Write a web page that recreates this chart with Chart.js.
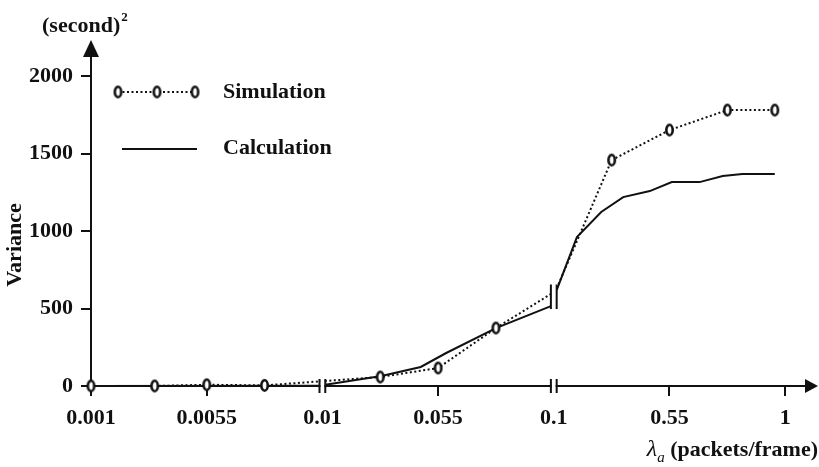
<!DOCTYPE html>
<html><head><meta charset="utf-8">
<script src="https://cdn.jsdelivr.net/npm/chart.js@4.4.0/dist/chart.umd.min.js"></script>
<style>html,body{margin:0;padding:0;background:#fff;overflow:hidden}#wrap{width:819px;height:467px}</style>
</head><body><div id="wrap"><canvas id="c" width="819" height="467"></canvas></div>
<script>
// ---- data ----
const xTickLabels = ['0.001','0.0055','0.01','0.055','0.1','0.55','1'];
const xTickPositions = [0,1,2,3,4,5,6];
const yTickValues = [0,500,1000,1500,2000];
const yTickLabels = ['0','500','1000','1500','2000'];
const axisBreaks = [2, 4];

const simX = [0, 0.55, 1, 1.5, 2.5, 3, 3.5, 3.975, 4.0, 4.025, 4.5, 5, 5.5, 5.91];
const simY = [0, 0, 8, 4, 58, 116, 374, 594, null, 630, 1458, 1652, 1781, 1781];
const simMarker = [1,1,1,1,1,1,1,0,0,0,1,1,1,1];

const calcX = [0, 1.975, 2.0, 2.025, 2.51, 2.85, 3.07, 3.5, 3.975, 4.0, 4.025, 4.2, 4.41, 4.6, 4.83, 5.02, 5.26, 5.46, 5.63, 5.91];
const calcY = [0, 2, null, 8, 65, 123, 213, 374, 516, null, 619, 961, 1123, 1219, 1258, 1316, 1316, 1355, 1368, 1368];

const INK = '#111';
const FAM = "'Liberation Serif','Times New Roman',serif";

// ellipse marker like an "o"
const marker = document.createElement('canvas');
marker.width = 11; marker.height = 15;
(function(){const m = marker.getContext('2d');
 m.beginPath(); m.ellipse(5.5,7.5,3.2,5.2,0,0,Math.PI*2);
 m.fillStyle='#fff'; m.fill(); m.lineWidth=2.6; m.strokeStyle=INK; m.stroke();})();

const decor = {
  id:'decor',
  afterDatasetsDraw(chart){
    const c = chart.ctx, xs = chart.scales.x, ys = chart.scales.y, a = chart.chartArea;
    const y0 = ys.getPixelForValue(0);
    c.save();
    // axis breaks
    axisBreaks.forEach((b, bi)=>{
      const x1 = xs.getPixelForValue(b-0.025), x2 = xs.getPixelForValue(b+0.025);
      const segs = [[y0-7, y0+7]];
      if (bi === 1) {
        const vals = [];
        simX.forEach((x,i)=>{ if (Math.abs(x-b)<0.05 && simY[i]!==null) vals.push(simY[i]); });
        calcX.forEach((x,i)=>{ if (Math.abs(x-b)<0.05 && calcY[i]!==null) vals.push(calcY[i]); });
        segs.push([ys.getPixelForValue(Math.max(...vals))-4, ys.getPixelForValue(Math.min(...vals))+3]);
      }
      segs.forEach(([t,btm])=>{
        c.fillStyle='#fff'; c.fillRect(x1+1, t, x2-x1-2, btm-t);
        c.strokeStyle=INK; c.lineWidth=2;
        c.beginPath(); c.moveTo(x1,t); c.lineTo(x1,btm); c.moveTo(x2,t); c.lineTo(x2,btm); c.stroke();
      });
    });
    // arrows
    c.fillStyle=INK;
    const xl = a.left;
    c.beginPath(); c.moveTo(xl, a.top-16); c.lineTo(xl-8, a.top+1); c.lineTo(xl+8, a.top+1); c.closePath(); c.fill();
    c.beginPath(); c.moveTo(a.right+12, y0); c.lineTo(a.right-1, y0-7); c.lineTo(a.right-1, y0+7); c.closePath(); c.fill();
    // legend
    const ds0 = chart.data.datasets[0];
    c.strokeStyle=INK; c.lineWidth=2;
    c.setLineDash([2,2.5]);
    c.beginPath(); c.moveTo(118,92); c.lineTo(195,92); c.stroke();
    c.setLineDash([]);
    [118,157,195].forEach(x=>c.drawImage(marker, x-marker.width/2, 92-marker.height/2));
    c.beginPath(); c.moveTo(122,149); c.lineTo(197,149); c.stroke();
    c.fillStyle=INK; c.textBaseline='middle'; c.textAlign='left';
    c.font='bold 22px '+FAM;
    c.fillText(ds0.label, 223, 92);
    c.fillText(chart.data.datasets[1].label, 223, 148);
    // y unit
    c.textBaseline='alphabetic';
    c.font='bold 22px '+FAM;
    c.fillText('(second)', 42, 32);
    const w = c.measureText('(second)').width;
    c.font='bold 13px '+FAM;
    c.fillText('2', 42+w+1, 21);
    // y title
    c.save(); c.translate(15, 245); c.rotate(-Math.PI/2);
    c.font='bold 22px '+FAM; c.textAlign='center'; c.textBaseline='middle';
    c.fillText('Variance', 0, 0); c.restore();
    // x title
    c.textAlign='left'; c.textBaseline='alphabetic';
    c.font='bold 22px '+FAM; const t3 = ' (packets/frame)'; const w3 = c.measureText(t3).width;
    c.font='italic 15px '+FAM; const w2 = c.measureText('a').width;
    c.font='italic 24px '+FAM; const w1 = c.measureText('λ').width;
    let x = 818 - w3 - w2 - w1;
    c.fillText('λ', x, 456); x += w1;
    c.font='italic 15px '+FAM; c.fillText('a', x, 462); x += w2;
    c.font='bold 22px '+FAM; c.fillText(t3, x, 456);
    c.restore();
  }
};

new Chart(document.getElementById('c'), {
  type:'line',
  data:{datasets:[
    {label:'Simulation', data: simX.map((x,i)=>({x, y: simY[i]})),
     borderColor:INK, borderWidth:2, borderDash:[2,2.5], spanGaps:false, clip:false,
     pointStyle: marker, pointRadius: ctx=> simMarker[ctx.dataIndex] ? 5 : 0, tension:0},
    {label:'Calculation', data: calcX.map((x,i)=>({x, y: calcY[i]})),
     borderColor:INK, borderWidth:2, spanGaps:false, clip:false, pointRadius:0, tension:0}
  ]},
  options:{
    responsive:false, animation:false,
    layout:{padding:{left:0, right:13, top:56, bottom:0}},
    plugins:{legend:{display:false}, tooltip:{enabled:false}},
    scales:{
      x:{type:'linear', min:0, max:6.18,
        afterBuildTicks: s=>{ s.ticks = xTickPositions.map(v=>({value:v})); },
        afterFit: s=>{ s.height = 467-386; },
        ticks:{callback:(v)=>xTickLabels[xTickPositions.indexOf(v)], autoSkip:false, maxRotation:0,
          font:{family:FAM, size:22, weight:'bold'}, color:INK, padding:9},
        grid:{drawOnChartArea:false, tickLength:10, lineWidth:2,
          tickColor: ctx=> (ctx.tick && axisBreaks.includes(ctx.tick.value)) ? 'rgba(0,0,0,0)' : INK},
        border:{color:INK, width:2}},
      y:{type:'linear', min:0, max:2130,
        afterBuildTicks: s=>{ s.ticks = yTickValues.map(v=>({value:v})); },
        afterFit: s=>{ s.width = 91; },
        ticks:{callback:(v)=>yTickLabels[yTickValues.indexOf(v)],
          font:{family:FAM, size:22, weight:'bold'}, color:INK, padding:8},
        grid:{drawOnChartArea:false, tickLength:10, lineWidth:2, tickColor:INK},
        border:{color:INK, width:2}}
    }
  },
  plugins:[decor]
});
</script></body></html>
